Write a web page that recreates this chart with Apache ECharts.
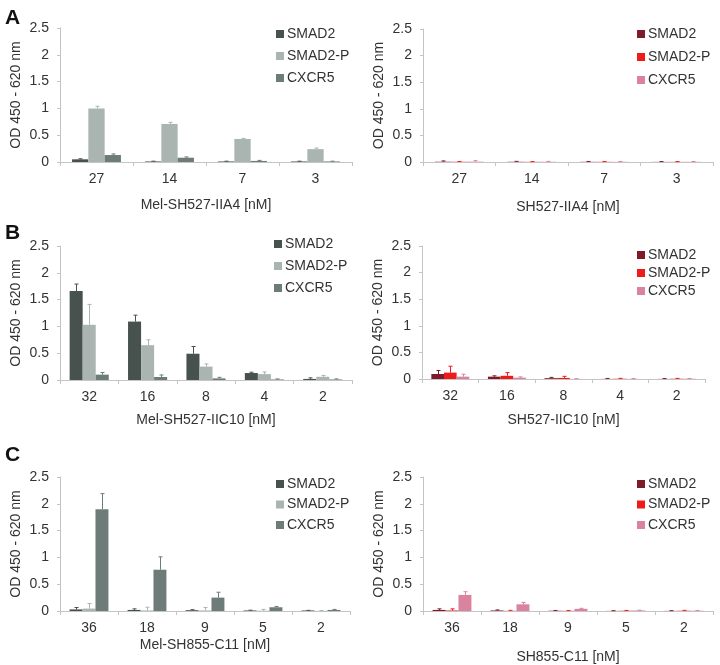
<!DOCTYPE html>
<html>
<head>
<meta charset="utf-8">
<script src="https://cdn.jsdelivr.net/npm/echarts@6/dist/echarts.min.js"></script>
<style>html,body{margin:0;padding:0;background:#fff}#c{width:720px;height:665px}</style>
</head>
<body>
<div id="c"></div>
<script>
// ---- Data ----
const seriesNames = ['SMAD2', 'SMAD2-P', 'CXCR5'];
const yTicks = [0, 0.5, 1, 1.5, 2, 2.5];

// Panel A
const catA = ['27', '14', '7', '3'];
const aLeftSMAD2   = [0.05, 0.01, 0.01, 0.01];
const aLeftSMAD2P  = [1.00, 0.71, 0.43, 0.24];
const aLeftCXCR5   = [0.13, 0.08, 0.02, 0.01];
const aLeftSMAD2Err  = [0.06, 0.015, 0.015, 0.015];
const aLeftSMAD2PErr = [1.04, 0.74, 0.44, 0.26];
const aLeftCXCR5Err  = [0.15, 0.095, 0.03, 0.015];

const aRightSMAD2   = [0.005, 0.004, 0.003, 0.002];
const aRightSMAD2P  = [0.004, 0.003, 0.003, 0.002];
const aRightCXCR5   = [0.006, 0.004, 0.003, 0.003];
const aRightSMAD2Err  = [0.02, 0.012, 0.01, 0.008];
const aRightSMAD2PErr = [0.01, 0.008, 0.01, 0.008];
const aRightCXCR5Err  = [0.025, 0.012, 0.01, 0.01];

// Panel B
const catB = ['32', '16', '8', '4', '2'];
const bLeftSMAD2   = [1.66, 1.09, 0.49, 0.13, 0.02];
const bLeftSMAD2P  = [1.03, 0.65, 0.25, 0.11, 0.06];
const bLeftCXCR5   = [0.10, 0.056, 0.03, 0.01, 0.01];
const bLeftSMAD2Err  = [1.79, 1.21, 0.625, 0.145, 0.04];
const bLeftSMAD2PErr = [1.41, 0.75, 0.30, 0.15, 0.085];
const bLeftCXCR5Err  = [0.14, 0.094, 0.05, 0.02, 0.02];

const bRightSMAD2   = [0.094, 0.044, 0.015, 0.002, 0.002];
const bRightSMAD2P  = [0.12, 0.06, 0.02, 0.005, 0.005];
const bRightCXCR5   = [0.044, 0.025, 0.002, 0.002, 0.005];
const bRightSMAD2Err  = [0.16, 0.06, 0.03, 0.01, 0.008];
const bRightSMAD2PErr = [0.24, 0.12, 0.05, 0.012, 0.012];
const bRightCXCR5Err  = [0.09, 0.04, 0.006, 0.008, 0.01];

// Panel C
const catC = ['36', '18', '9', '5', '2'];
const cLeftSMAD2   = [0.03, 0.02, 0.015, 0.01, 0.01];
const cLeftSMAD2P  = [0.045, 0.01, 0.01, 0.005, 0.002];
const cLeftCXCR5   = [1.90, 0.77, 0.25, 0.07, 0.02];
const cLeftSMAD2Err  = [0.065, 0.04, 0.025, 0.015, 0.012];
const cLeftSMAD2PErr = [0.14, 0.07, 0.065, 0.03, 0.01];
const cLeftCXCR5Err  = [2.19, 1.01, 0.35, 0.085, 0.03];

const cRightSMAD2   = [0.02, 0.01, 0.005, 0.002, 0.002];
const cRightSMAD2P  = [0.01, 0.003, 0.003, 0.005, 0.005];
const cRightCXCR5   = [0.30, 0.125, 0.04, 0.01, 0.005];
const cRightSMAD2Err  = [0.04, 0.02, 0.01, 0.006, 0.006];
const cRightSMAD2PErr = [0.04, 0.012, 0.008, 0.01, 0.012];
const cRightCXCR5Err  = [0.36, 0.16, 0.05, 0.015, 0.01];

const panelTitles = ['A', 'B', 'C'];
const xNames = ['Mel-SH527-IIA4 [nM]', 'SH527-IIA4 [nM]', 'Mel-SH527-IIC10 [nM]', 'SH527-IIC10 [nM]', 'Mel-SH855-C11 [nM]', 'SH855-C11 [nM]'];
const yName = 'OD 450 - 620 nm';

// ---- Styling / layout ----
const grayColors = ['#47524f', '#aab5b2', '#6d7c79'];
const redColors = ['#7e1b2b', '#f01a1a', '#d9839e'];
const FONT = '"Liberation Sans", Arial, sans-serif';

const panels = [
  { cats: catA, vals: [aLeftSMAD2, aLeftSMAD2P, aLeftCXCR5], errs: [aLeftSMAD2Err, aLeftSMAD2PErr, aLeftCXCR5Err], colors: grayColors, suffix: '',
    grid: { left: 60, top: 28, width: 292, height: 134 }, xGap: 36, legend: { left: 271, top: 22, gap: 8 } },
  { cats: catA, vals: [aRightSMAD2, aRightSMAD2P, aRightCXCR5], errs: [aRightSMAD2Err, aRightSMAD2PErr, aRightCXCR5Err], colors: redColors, suffix: '#r',
    grid: { left: 423, top: 29, width: 290, height: 133 }, xGap: 38, legend: { left: 632, top: 22, gap: 9 } },
  { cats: catB, vals: [bLeftSMAD2, bLeftSMAD2P, bLeftCXCR5], errs: [bLeftSMAD2Err, bLeftSMAD2PErr, bLeftCXCR5Err], colors: grayColors, suffix: '',
    grid: { left: 60, top: 246, width: 292, height: 134 }, xGap: 33, legend: { left: 269, top: 232, gap: 8 } },
  { cats: catB, vals: [bRightSMAD2, bRightSMAD2P, bRightCXCR5], errs: [bRightSMAD2Err, bRightSMAD2PErr, bRightCXCR5Err], colors: redColors, suffix: '#r',
    grid: { left: 422, top: 246, width: 283, height: 133 }, xGap: 34, legend: { left: 632, top: 243, gap: 4 } },
  { cats: catC, vals: [cLeftSMAD2, cLeftSMAD2P, cLeftCXCR5], errs: [cLeftSMAD2Err, cLeftSMAD2PErr, cLeftCXCR5Err], colors: grayColors, suffix: '',
    grid: { left: 60, top: 477, width: 290, height: 134 }, xGap: 27, legend: { left: 271, top: 472, gap: 6.5 } },
  { cats: catC, vals: [cRightSMAD2, cRightSMAD2P, cRightCXCR5], errs: [cRightSMAD2Err, cRightSMAD2PErr, cRightCXCR5Err], colors: redColors, suffix: '#r',
    grid: { left: 423, top: 477, width: 290, height: 134 }, xGap: 39, legend: { left: 632, top: 472, gap: 6.5 } }
];

const CAT_GAP = 0.33;
const grids = [], xAxes = [], yAxes = [], series = [], legends = [];

panels.forEach((p, i) => {
  grids.push(Object.assign({ containLabel: false }, p.grid));
  xAxes.push({
    type: 'category', gridIndex: i, data: p.cats,
    name: xNames[i], nameLocation: 'middle', nameGap: p.xGap,
    nameTextStyle: { fontSize: 14, color: '#333', fontFamily: FONT },
    axisLine: { show: true, lineStyle: { color: '#c4c4c4', width: 1 } },
    axisTick: { show: true, length: 4, lineStyle: { color: '#c4c4c4' } },
    axisLabel: { fontSize: 14, color: '#333', margin: 10, fontFamily: FONT },
    splitLine: { show: false }
  });
  yAxes.push({
    type: 'value', gridIndex: i, min: yTicks[0], max: yTicks[yTicks.length - 1], interval: 0.5,
    name: yName, nameLocation: 'middle', nameGap: 37, nameRotate: 90,
    nameTextStyle: { fontSize: 14, color: '#333', fontFamily: FONT },
    axisLine: { show: true, lineStyle: { color: '#c4c4c4', width: 1 } },
    axisTick: { show: true, length: 3, lineStyle: { color: '#c4c4c4' } },
    axisLabel: { fontSize: 14, color: '#333', margin: 11, fontFamily: FONT },
    splitLine: { show: false }
  });
  const names = seriesNames.map(n => n + p.suffix);
  seriesNames.forEach((n, k) => {
    series.push({
      type: 'bar', name: names[k], xAxisIndex: i, yAxisIndex: i,
      data: p.vals[k], barGap: '0%', barCategoryGap: (CAT_GAP * 100) + '%',
      itemStyle: { color: p.colors[k] }, animation: false
    });
  });
  seriesNames.forEach((n, k) => {
    const color = p.colors[k];
    series.push({
      type: 'custom', name: names[k] + '_err', xAxisIndex: i, yAxisIndex: i, z: 5,
      data: p.vals[k].map((v, j) => [j, v, p.errs[k][j]]),
      encode: { x: 0, y: [1, 2] },
      animation: false, silent: true,
      renderItem: function (params, api) {
        const x = api.value(0), v = api.value(1), e = api.value(2);
        const band = api.size([1, 0])[0];
        const bw = band * (1 - CAT_GAP) / 3;
        const off = (k - 1) * bw;
        const p0 = api.coord([x, v]);
        const p1 = api.coord([x, e]);
        const cx = Math.round(p0[0] + off) + 0.5;
        return {
          type: 'group', children: [
            { type: 'line', shape: { x1: cx, y1: p0[1], x2: cx, y2: p1[1] }, style: { stroke: color, lineWidth: 1 } },
            { type: 'line', shape: { x1: cx - 2, y1: p1[1], x2: cx + 2, y2: p1[1] }, style: { stroke: color, lineWidth: 1 } }
          ]
        };
      }
    });
  });
  legends.push({
    data: names, orient: 'vertical', left: p.legend.left, top: p.legend.top,
    itemGap: p.legend.gap, itemWidth: 8, itemHeight: 8, icon: 'rect',
    textStyle: { fontSize: 14, color: '#333', fontFamily: FONT, padding: [0, 0, 0, -2] },
    formatter: name => name.replace('#r', ''),
    selectedMode: false
  });
});

const titles = panelTitles.map((t, i) => ({
  text: t, left: 0, top: [3, 218, 440][i],
  textStyle: { fontSize: 21, fontWeight: 'bold', color: '#111', fontFamily: FONT }
}));

const chart = echarts.init(document.getElementById('c'), null, { renderer: 'canvas' });
chart.setOption({
  animation: false,
  backgroundColor: '#ffffff',
  title: titles,
  grid: grids, xAxis: xAxes, yAxis: yAxes, legend: legends, series: series
});
</script>
</body>
</html>
